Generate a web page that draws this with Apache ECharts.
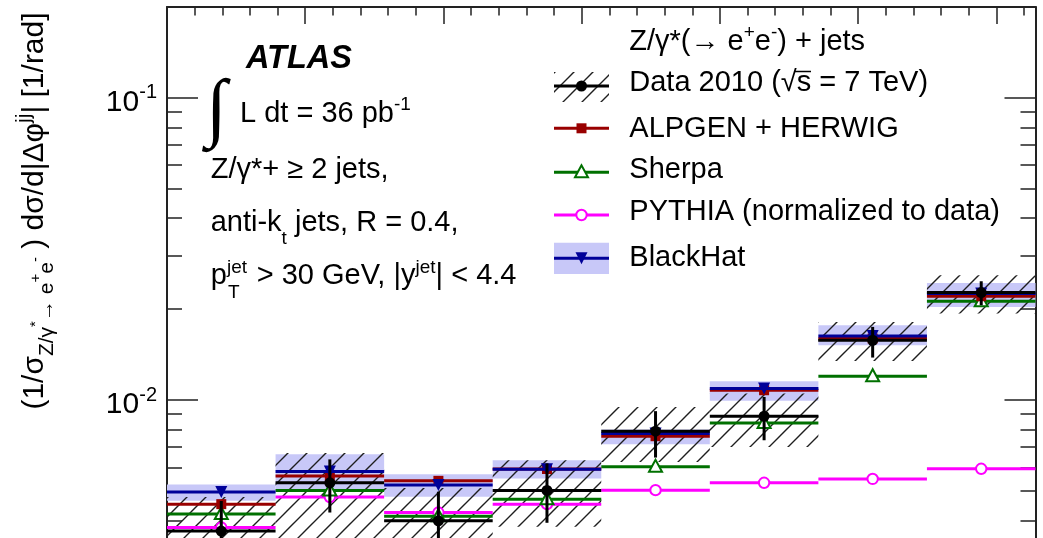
<!DOCTYPE html>
<html>
<head>
<meta charset="utf-8">
<title>Z/γ* + jets: dσ/d|Δφ(jj)|</title>
<script src="https://cdn.jsdelivr.net/npm/echarts@6/dist/echarts.min.js"></script>
<style>
  html, body { margin: 0; padding: 0; background: #ffffff; }
  #chart { width: 1043px; height: 538px; }
</style>
</head>
<body>
<div id="chart"></div>
<script>
// Bin edges in |Δφ(jj)| [rad], eight bins of π/8
const binEdges = [0, 0.3927, 0.7854, 1.1781, 1.5708, 1.9635, 2.3562, 2.7489, 3.1416];

// Data 2010: central values, statistical band, total (stat + syst) band
const dataVal    = [0.00369, 0.00533, 0.00399, 0.00503, 0.00790, 0.00885, 0.01579, 0.02271];
const dataStatLo = [0.00273, 0.00425, 0.00300, 0.00393, 0.00646, 0.00737, 0.01384, 0.02062];
const dataStatHi = [0.00464, 0.00637, 0.00498, 0.00618, 0.00920, 0.01025, 0.01748, 0.02475];
const dataTotLo  = [0.00260, 0.00340, 0.00285, 0.00381, 0.00625, 0.00700, 0.01349, 0.01935];
const dataTotHi  = [0.00478, 0.00669, 0.00512, 0.00633, 0.00950, 0.01052, 0.01816, 0.02590];

// Predictions
const alpgenVal   = [0.00453, 0.00561, 0.00541, 0.00592, 0.00760, 0.01079, 0.01600, 0.02208];
const sherpaVal   = [0.00420, 0.00503, 0.00413, 0.00470, 0.00602, 0.00841, 0.01201, 0.02126];
const pythiaVal   = [0.00379, 0.00478, 0.00425, 0.00453, 0.00504, 0.00533, 0.00549, 0.00593];
const blackhatVal = [0.00497, 0.00581, 0.00524, 0.00591, 0.00776, 0.01093, 0.01632, 0.02254];
const blackhatLo  = [0.00465, 0.00500, 0.00479, 0.00551, 0.00715, 0.00995, 0.01520, 0.02035];
const blackhatHi  = [0.00526, 0.00663, 0.00569, 0.00633, 0.00800, 0.01156, 0.01770, 0.02443];

// Axis ticks
const yMajorTicks = [0.01, 0.1];
const yMinorTicks = [0.004, 0.005, 0.006, 0.007, 0.008, 0.009,
                     0.02, 0.03, 0.04, 0.05, 0.06, 0.07, 0.08, 0.09];
const xMajorTicks = [0.5, 1.0, 1.5, 2.0, 2.5, 3.0];
const xMinorTicks = [0.1, 0.2, 0.3, 0.4, 0.6, 0.7, 0.8, 0.9, 1.1, 1.2, 1.3, 1.4,
                     1.6, 1.7, 1.8, 1.9, 2.1, 2.2, 2.3, 2.4, 2.6, 2.7, 2.8, 2.9, 3.1];

const FONT = 'Liberation Sans';
const C = {
  data: '#000000',
  alpgen: '#990000',
  sherpa: '#007000',
  pythia: '#ff00ff',
  blackhat: '#000099',
  band: '#c8c8f8',
  frame: '#222222'
};

// Diagonal hatch tile used for the data uncertainty
function makeHatch() {
  const s = 19;
  const c = document.createElement('canvas');
  c.width = s; c.height = s;
  const g = c.getContext('2d');
  g.strokeStyle = '#1e1e1e';
  g.lineWidth = 1.4;
  g.beginPath();
  g.moveTo(0, s); g.lineTo(s, 0);
  g.moveTo(-3, 3); g.lineTo(3, -3);
  g.moveTo(s - 3, s + 3); g.lineTo(s + 3, s - 3);
  g.stroke();
  return c;
}
const hatchFill = { image: makeHatch(), repeat: 'repeat' };

function rows(vals, lo, hi) {
  return vals.map((v, i) => [binEdges[i], binEdges[i + 1], v,
    lo ? lo[i] : v, hi ? hi[i] : v]);
}

function markerShape(kind, cx, cy, color) {
  switch (kind) {
    case 'dot':
      return { type: 'circle', shape: { cx, cy, r: 5.5 }, style: { fill: color } };
    case 'square':
      return { type: 'rect', shape: { x: cx - 5, y: cy - 5, width: 10, height: 10 }, style: { fill: color } };
    case 'triUp':
      return { type: 'polygon', shape: { points: [[cx, cy - 7], [cx - 6.5, cy + 5], [cx + 6.5, cy + 5]] },
               style: { fill: '#ffffff', stroke: color, lineWidth: 2 } };
    case 'circleOpen':
      return { type: 'circle', shape: { cx, cy, r: 5.2 }, style: { fill: '#ffffff', stroke: color, lineWidth: 2 } };
    case 'triDown':
      return { type: 'polygon', shape: { points: [[cx - 6, cy - 6], [cx + 6, cy - 6], [cx, cy + 6]] },
               style: { fill: color } };
  }
  return null;
}

function boxRender(fill) {
  return function (params, api) {
    const a = api.coord([api.value(0), api.value(4)]);
    const b = api.coord([api.value(1), api.value(3)]);
    return { type: 'rect', shape: { x: a[0], y: a[1], width: b[0] - a[0], height: b[1] - a[1] },
             style: { fill } };
  };
}

function stepRender(color, marker, withErr) {
  return function (params, api) {
    const y = api.value(2);
    const p0 = api.coord([api.value(0), y]);
    const p1 = api.coord([api.value(1), y]);
    const cx = (p0[0] + p1[0]) / 2;
    const kids = [{ type: 'line', shape: { x1: p0[0], y1: p0[1], x2: p1[0], y2: p1[1] },
                    style: { stroke: color, lineWidth: 3 } }];
    if (withErr) {
      const lo = api.coord([api.value(0), api.value(3)]);
      const hi = api.coord([api.value(0), api.value(4)]);
      kids.push({ type: 'line', shape: { x1: cx, y1: hi[1], x2: cx, y2: lo[1] },
                  style: { stroke: color, lineWidth: 3 } });
    }
    kids.push(markerShape(marker, cx, p0[1], color));
    return { type: 'group', children: kids };
  };
}

function custom(name, data, renderItem) {
  return { name, type: 'custom', xAxisIndex: 0, yAxisIndex: 0, clip: true, silent: true,
           encode: { x: [0, 1], y: [2, 3, 4] }, data, renderItem };
}

const series = [
  custom('BlackHat band', rows(blackhatVal, blackhatLo, blackhatHi), boxRender(C.band)),
  custom('Data uncertainty', rows(dataVal, dataTotLo, dataTotHi), boxRender(hatchFill)),
  custom('PYTHIA', rows(pythiaVal), stepRender(C.pythia, 'circleOpen', false)),
  custom('Sherpa', rows(sherpaVal), stepRender(C.sherpa, 'triUp', false)),
  custom('ALPGEN + HERWIG', rows(alpgenVal), stepRender(C.alpgen, 'square', false)),
  custom('BlackHat', rows(blackhatVal), stepRender(C.blackhat, 'triDown', false)),
  custom('Data 2010', rows(dataVal, dataStatLo, dataStatHi), stepRender(C.data, 'dot', true))
];

const Y_MIN = 0.0035, Y_MAX = 0.2;

function yAxis(position, tickVals, len, withLine, withLabels) {
  return {
    type: 'log', logBase: 10, min: Y_MIN, max: Y_MAX, position,
    axisLine: { show: withLine, lineStyle: { color: C.frame, width: 2 } },
    axisTick: { show: true, inside: true, length: len, customValues: tickVals,
                lineStyle: { color: C.frame, width: 1.5 } },
    splitLine: { show: false },
    minorTick: { show: false },
    axisLabel: withLabels ? {
      show: true, customValues: yMajorTicks, margin: 10, padding: [10, 0, 0, 0],
      formatter: v => '{b|10}{s|' + Math.round(Math.log10(v)) + '}',
      rich: {
        b: { fontFamily: FONT, fontSize: 30, lineHeight: 40, color: '#000' },
        s: { fontFamily: FONT, fontSize: 20, lineHeight: 20, verticalAlign: 'top', color: '#000' }
      }
    } : { show: false }
  };
}

function xAxis(tickVals, len, withLine) {
  return {
    type: 'value', min: 0, max: Math.PI, position: 'top',
    axisLine: { show: withLine, lineStyle: { color: C.frame, width: 2 } },
    axisTick: { show: true, inside: true, length: len, customValues: tickVals,
                lineStyle: { color: C.frame, width: 1.5 } },
    axisLabel: { show: false },
    splitLine: { show: false }
  };
}

// Shared rich-text styles for annotations
const M = 29;
const txtRich = {
  m:  { fontFamily: FONT, fontSize: M, lineHeight: 51, fill: '#000' },
  sp: { fontFamily: FONT, fontSize: 19, lineHeight: 19, verticalAlign: 'top', padding: [7, 0, 0, 0], fill: '#000' },
  sb: { fontFamily: FONT, fontSize: 19, lineHeight: 19, verticalAlign: 'bottom', fill: '#000' }
};

function richText(x, y, text, extra) {
  return Object.assign({
    type: 'text', x, y, z: 100,
    style: { text, rich: txtRich, fontFamily: FONT, fontSize: M, fill: '#000',
             align: 'left', verticalAlign: 'middle', textAlign: 'left', textVerticalAlign: 'middle' }
  }, extra || {});
}

function plainText(x, y, text, size, extraStyle) {
  return {
    type: 'text', x, y, z: 100,
    style: Object.assign({ text, fontFamily: FONT, fontSize: size, fill: '#000',
             align: 'left', verticalAlign: 'middle', textAlign: 'left', textVerticalAlign: 'middle' }, extraStyle || {})
  };
}

// Legend swatches
const LX0 = 554, LX1 = 609, LXC = 581.5;
function lgLine(y, color) {
  return { type: 'line', z: 100, shape: { x1: LX0, y1: y, x2: LX1, y2: y }, style: { stroke: color, lineWidth: 3 } };
}
function lgMarker(kind, y, color) {
  const s = markerShape(kind, LXC, y, color);
  s.z = 101;
  return s;
}

const graphics = [
  // y-axis title
  {
    type: 'text', x: 35, y: 211, rotation: Math.PI / 2, z: 100,
    style: {
      text: '{m|(1/σ}{sb|Z/γ}{ss|*}{sb|→ e}{ss|+}{sb|e}{ss|-}{m| ) dσ/d|Δφ}{sp|jj}{m|| [1/rad]}',
      rich: {
        m:  { fontFamily: FONT, fontSize: 30, lineHeight: 46, fill: '#000' },
        sb: { fontFamily: FONT, fontSize: 21, lineHeight: 21, verticalAlign: 'bottom', fill: '#000' },
        ss: { fontFamily: FONT, fontSize: 15, lineHeight: 15, verticalAlign: 'bottom', padding: [0, 0, 15, 0], fill: '#000' },
        sp: { fontFamily: FONT, fontSize: 21, lineHeight: 21, verticalAlign: 'top', padding: [2, 0, 0, 0], fill: '#000' }
      },
      fontFamily: FONT, fontSize: 30, fill: '#000',
      align: 'center', verticalAlign: 'middle', textAlign: 'center', textVerticalAlign: 'middle'
    }
  },
  // experiment label and selection
  plainText(246, 59.5, 'ATLAS', 32.5, { fontWeight: 'bold', fontStyle: 'italic' }),
  plainText(206, 112, '∫', 76, { fontFamily: 'Liberation Serif' }),
  richText(240, 113.7, '{m|L dt = 36 pb}{sp|-1}'),
  richText(210.7, 170, '{m|Z/γ*+ ≥ 2 jets,}'),
  richText(210.7, 223, '{m|anti-k}{sb|t}{m| jets, R = 0.4,}'),
  plainText(210.7, 276.3, 'p', M),
  plainText(227, 268, 'jet', 19),
  plainText(228, 292.5, 'T', 19),
  richText(256.7, 276.3, '{m|> 30 GeV, |y}{sp|jet}{m|| < 4.4}'),
  // legend
  richText(629.3, 41.7, '{m|Z/γ*(→ e}{sp|+}{m|e}{sp|-}{m|) + jets}'),
  { type: 'rect', z: 99, shape: { x: LX0, y: 72, width: LX1 - LX0, height: 30 }, style: { fill: hatchFill } },
  lgLine(86, C.data), lgMarker('dot', 86, C.data),
  lgLine(128.3, C.alpgen), lgMarker('square', 128.3, C.alpgen),
  lgLine(172.3, C.sherpa), lgMarker('triUp', 172.3, C.sherpa),
  lgLine(215, C.pythia), lgMarker('circleOpen', 215, C.pythia),
  { type: 'rect', z: 99, shape: { x: LX0, y: 242.7, width: LX1 - LX0, height: 31.3 }, style: { fill: C.band } },
  lgLine(258.3, C.blackhat), lgMarker('triDown', 258.3, C.blackhat),
  richText(629.3, 83.3, '{m|Data 2010 (√s = 7 TeV)}'),
  { type: 'line', z: 100, shape: { x1: 795, y1: 71.5, x2: 811, y2: 71.5 }, style: { stroke: '#000', lineWidth: 1.5 } },
  richText(629.3, 128.8, '{m|ALPGEN + HERWIG}'),
  richText(629.3, 170, '{m|Sherpa}'),
  richText(629.3, 212.3, '{m|PYTHIA (normalized to data)}'),
  richText(629.3, 258.3, '{m|BlackHat}')
];

const chart = echarts.init(document.getElementById('chart'), null, { renderer: 'canvas' });
chart.setOption({
  animation: false,
  backgroundColor: '#ffffff',
  textStyle: { fontFamily: FONT },
  grid: { left: 167, right: 7.5, top: 7, bottom: 0, containLabel: false },
  xAxis: [xAxis(xMajorTicks, 17, true), xAxis(xMinorTicks, 8.5, false)],
  yAxis: [
    yAxis('left', yMajorTicks, 31, true, true),
    yAxis('left', yMinorTicks, 15, false, false),
    yAxis('right', yMajorTicks, 31, true, false),
    yAxis('right', yMinorTicks, 15, false, false)
  ],
  series,
  graphic: graphics
});
</script>
</body>
</html>
